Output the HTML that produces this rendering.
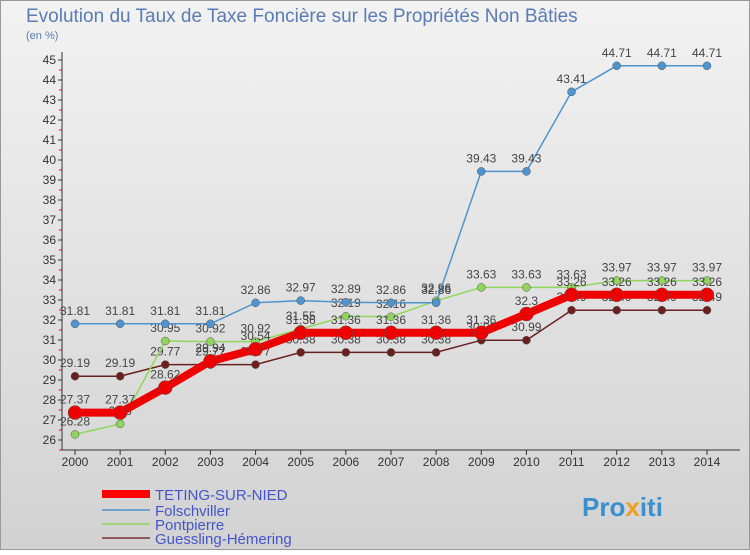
<!DOCTYPE html>
<html><head><meta charset="utf-8"><style>
body{margin:0;width:750px;height:550px;overflow:hidden;font-family:"Liberation Sans",sans-serif}
</style></head><body>
<svg width="750" height="550" xmlns="http://www.w3.org/2000/svg">
<defs><linearGradient id="bg" x1="0" y1="0" x2="0" y2="1"><stop offset="0" stop-color="#f2f2f2"/><stop offset="1" stop-color="#d2d2d2"/></linearGradient></defs>
<rect x="0.5" y="0.5" width="749" height="549" fill="url(#bg)" stroke="#999"/>
<text x="26" y="22" font-size="19" fill="#5a7bb5">Evolution du Taux de Taxe Foncière sur les Propriétés Non Bâties</text>
<text x="26" y="39" font-size="11" fill="#5a7bb5">(en %)</text>
<g id="axes"></g><g id="series"></g>
<g>
<line x1="102" y1="494" x2="150" y2="494" stroke="red" stroke-width="8"/><text x="155" y="500" font-size="15" fill="#4455cc">TETING-SUR-NIED</text>
<line x1="102" y1="510" x2="150" y2="510" stroke="#4f94cf" stroke-width="1.5"/><text x="155" y="516" font-size="15" fill="#4455cc">Folschviller</text>
<line x1="102" y1="524" x2="150" y2="524" stroke="#8fd65a" stroke-width="1.5"/><text x="155" y="530" font-size="15" fill="#4455cc">Pontpierre</text>
<line x1="102" y1="538" x2="150" y2="538" stroke="#7a3030" stroke-width="1.5"/><text x="155" y="544" font-size="15" fill="#4455cc">Guessling-Hémering</text>
</g>
<text x="582" y="516" font-size="26" font-weight="bold" fill="#3a8fd0">Pro<tspan fill="#f0a020">x</tspan>iti</text>
</svg>
<script>
const years=[2000,2001,2002,2003,2004,2005,2006,2007,2008,2009,2010,2011,2012,2013,2014];
const teting=[27.37,27.37,28.62,29.94,30.54,31.36,31.36,31.36,31.36,31.36,32.3,33.26,33.26,33.26,33.26];
const folschviller=[31.81,31.81,31.81,31.81,32.86,32.97,32.89,32.86,32.86,39.43,39.43,43.41,44.71,44.71,44.71];
const pontpierre=[26.28,26.8,30.95,30.92,30.92,31.55,32.19,32.16,32.96,33.63,33.63,33.63,33.97,33.97,33.97];
const guessling=[29.19,29.19,29.77,29.77,29.77,30.38,30.38,30.38,30.38,30.99,30.99,32.49,32.49,32.49,32.49];
const yTicks=[26,27,28,29,30,31,32,33,34,35,36,37,38,39,40,41,42,43,44,45];
const NS="http://www.w3.org/2000/svg";
const x=i=>75+i*(707-75)/(years.length-1);
const y=v=>440-(v-26)*20;
function mk(t,a,p){const e=document.createElementNS(NS,t);for(const k in a)e.setAttribute(k,a[k]);p.appendChild(e);return e;}
const ax=document.getElementById('axes');
const yl=mk('line',{x1:62,y1:52,x2:62,y2:450,stroke:'#333'},ax);


const xl=mk('line',{x1:62,y1:450,x2:740,y2:450,stroke:'#333'},ax);


yTicks.forEach(v=>{
 mk('line',{x1:58,y1:y(v),x2:62,y2:y(v),stroke:'#333'},ax);
 mk('line',{x1:59,y1:y(v)+10,x2:62,y2:y(v)+10,stroke:'red'},ax);
 const t=mk('text',{x:56,y:y(v)+4,'font-size':12,'text-anchor':'end',fill:'#333'},ax);t.textContent=v;
 
 
});
years.forEach((yr,i)=>{
 mk('line',{x1:x(i),y1:450,x2:x(i),y2:455,stroke:'#333'},ax);
 const t=mk('text',{x:x(i),y:466,'font-size':12,'text-anchor':'middle',fill:'#333'},ax);t.textContent=yr;
 
 
});
const sg=document.getElementById('series');
function series(name,d,color,w,r){
 const g=mk('g',{},sg);
 
 
 mk('polyline',{points:d.map((v,i)=>x(i)+','+y(v)).join(' '),fill:'none',stroke:color,'stroke-width':w},g);
 d.forEach((v,i)=>{
  const c=mk('circle',{cx:x(i),cy:y(v),r:r,fill:color,stroke:'#555','stroke-width':0.5},g);
  
  
  const t=mk('text',{x:x(i),y:y(v)-9,'font-size':12,'text-anchor':'middle',fill:'#444'},g);t.textContent=v;
  
  
 });
}
series('guessling-series',guessling,'#6b2020',1.5,4);
series('pontpierre-series',pontpierre,'#8fd65a',1.5,4);
series('folschviller-series',folschviller,'#4f94cf',1.5,4);
series('teting-series',teting,'#ee0000',8,7);
</script>
</body></html>
